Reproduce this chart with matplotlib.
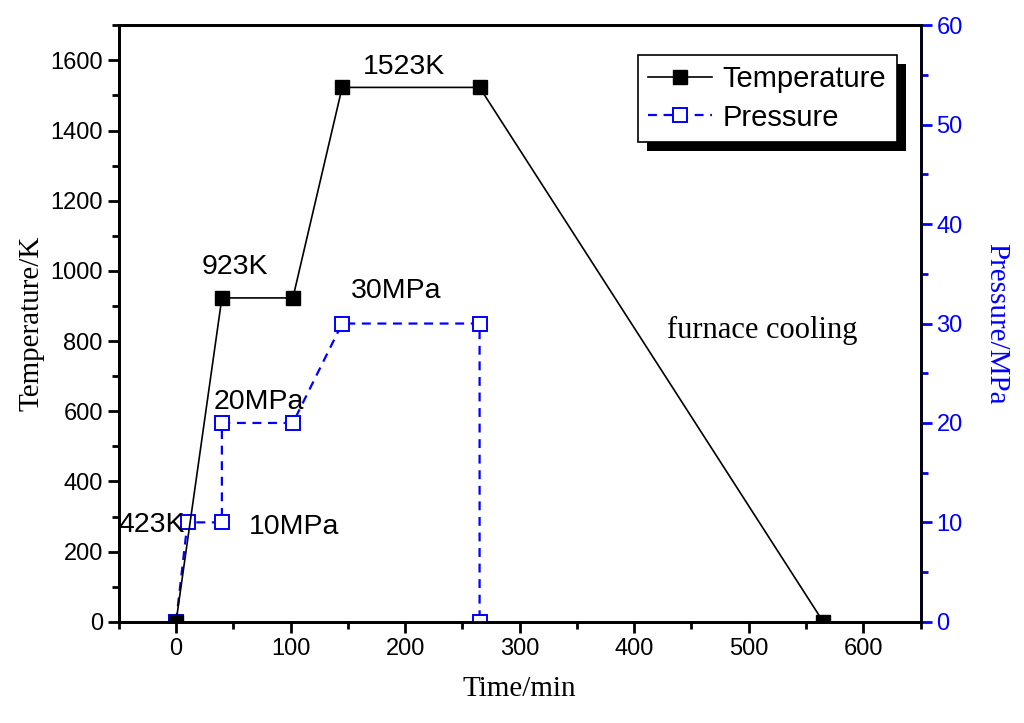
import numpy as np
import matplotlib
matplotlib.use("Agg")
import matplotlib.pyplot as plt
from matplotlib.patches import Rectangle
from matplotlib.ticker import MultipleLocator

# temperature profile
temp_time = [0, 40, 102, 145, 265, 565]
temp_K = [0, 923, 923, 1523, 1523, 0]

# pressure profile
pres_time = [0, 10, 40, 40, 102, 145, 265, 265]
pres_MPa = [0, 10, 10, 20, 20, 30, 30, 0]

labels = ["1523K", "923K", "423K", "30MPa", "20MPa", "10MPa", "furnace cooling"]
label_x = [199, 51, -21, 192, 72, 103, 512]
label_y = [1580, 1010, 277, 944, 627, 271, 830]

sans = "Liberation Sans"
serif = "Liberation Serif"

fig = plt.figure(figsize=(10.24, 7.23), dpi=100)
ax = fig.add_axes([0.116, 0.14, 0.783, 0.825])
ax2 = ax.twinx()

l1, = ax.plot(temp_time, temp_K, color="black", lw=1.2, marker="s", ms=10,
              mfc="black", mec="black", label="Temperature", zorder=2)
l2, = ax2.plot(pres_time, pres_MPa, color="blue", lw=1.6, ls=(0, (4, 3)),
               marker="s", ms=10, mfc="white", mec="blue", mew=1.4,
               label="Pressure", zorder=3)
ax.set_zorder(ax2.get_zorder() + 1)
ax.patch.set_visible(False)

ax.set_xlim(-50, 650)
ax.set_ylim(0, 1700)
ax2.set_ylim(0, 60)

ax.xaxis.set_major_locator(MultipleLocator(100))
ax.xaxis.set_minor_locator(MultipleLocator(50))
ax.yaxis.set_major_locator(MultipleLocator(200))
ax.yaxis.set_minor_locator(MultipleLocator(100))
ax2.yaxis.set_major_locator(MultipleLocator(10))
ax2.yaxis.set_minor_locator(MultipleLocator(5))

for a in (ax, ax2):
    for s in a.spines.values():
        s.set_linewidth(2)
ax2.spines["right"].set_color("blue")
ax.tick_params(which="major", direction="out", length=8, width=2, labelsize=17)
ax.tick_params(which="minor", direction="out", length=5, width=2)
ax2.tick_params(which="major", direction="out", length=8, width=2, labelsize=17,
                colors="blue")
ax2.tick_params(which="minor", direction="out", length=5, width=2, colors="blue")
for t in ax.get_xticklabels() + ax.get_yticklabels() + ax2.get_yticklabels():
    t.set_fontfamily(sans)

ax.set_xlabel("Time/min", fontsize=21, family=serif, labelpad=12)
ax.set_ylabel("Temperature/K", fontsize=21, family=serif, labelpad=4)
ax2.set_ylabel("Pressure/MPa", fontsize=21, family=serif, color="blue",
               rotation=270, labelpad=33)

for txt, x, y in zip(labels, label_x, label_y):
    fam = serif if txt == "furnace cooling" else sans
    ax.text(x, y, txt, fontsize=22 if fam == serif else 20.5, family=fam,
            ha="center", va="center", zorder=5)

leg = ax.legend([l1, l2], ["Temperature", "Pressure"], loc="upper right",
                bbox_to_anchor=(0.970, 0.950), borderaxespad=0, frameon=True,
                fancybox=False, edgecolor="black", facecolor="white",
                framealpha=1, handlelength=2.2, numpoints=1,
                prop={"family": sans, "size": 21},
                borderpad=0.35, labelspacing=0.35, handletextpad=0.35)
leg.get_frame().set_linewidth(1.2)
leg.set_zorder(10)

fig.canvas.draw()
bb = leg.get_window_extent()
shadow = Rectangle((bb.x0 + 9, bb.y0 - 9), bb.width, bb.height,
                   transform=None, facecolor="black", edgecolor="none", zorder=9)
ax.add_artist(shadow)

fig.savefig("out.png", dpi=100)
